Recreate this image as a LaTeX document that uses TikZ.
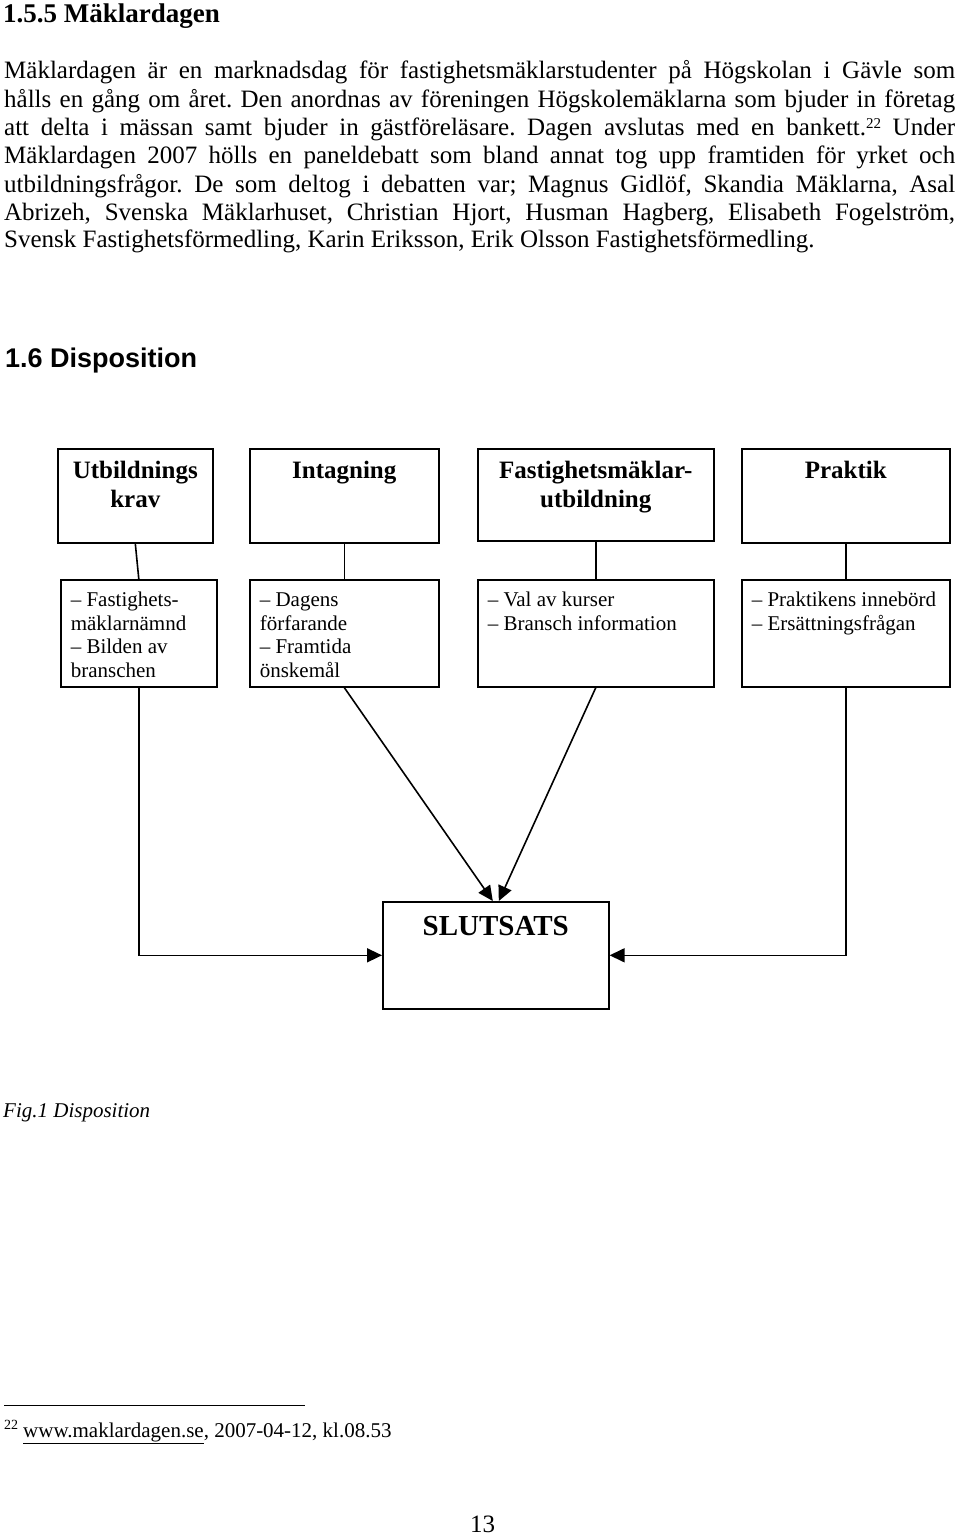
\documentclass[tikz,border=0pt]{standalone}
\usepackage{fontspec}
\setmainfont{Liberation Serif}
\newfontfamily\arialfont{Liberation Sans}
\usetikzlibrary{arrows.meta}
\frenchspacing
\newcommand\hdrtext{\centering\fontsize{25}{29}\selectfont\bfseries\rule{0pt}{30pt}}
\newcommand\lowtext{\raggedright\fontsize{21}{23.5}\selectfont\rule{0pt}{27pt}}
\newcommand\bodyline[1]{\makebox[951pt][s]{#1}}
\begin{document}
\frenchspacing
\begin{tikzpicture}[x=1pt,y=-1pt,
  txt/.style={anchor=base west, inner sep=0pt},
  body/.style={txt, font=\fontsize{25}{28}\selectfont},
  box/.style={draw, line width=1.6pt, inner sep=0pt, anchor=north west},
  lowbox/.style={box, inner xsep=10pt, inner ysep=0pt},
  conn/.style={line width=1.6pt},
  arr/.style={conn, -{Triangle[length=15pt,width=14pt]}}]
\useasboundingbox (0,0) rectangle (960,1537);

% headings and body text
\node[txt, font=\fontsize{27}{30}\selectfont\bfseries] (h1) at (3,22) {1.5.5 Mäklardagen};
\node[body] (p1) at (4,78)  {\bodyline{Mäklardagen är en marknadsdag för fastighetsmäklarstudenter på Högskolan i Gävle som}};
\node[body] (p2) at (4,107) {\bodyline{hålls en gång om året. Den anordnas av föreningen Högskolemäklarna som bjuder in företag}};
\node[body] (p3) at (4,135) {\bodyline{att delta i mässan samt bjuder in gästföreläsare. Dagen avslutas med en bankett.\raisebox{7pt}{\fontsize{15}{15}\selectfont 22} Under}};
\node[body] (p4) at (4,163) {\bodyline{Mäklardagen 2007 hölls en paneldebatt som bland annat tog upp framtiden för yrket och}};
\node[body] (p5) at (4,192) {\bodyline{utbildningsfrågor. De som deltog i debatten var; Magnus Gidlöf, Skandia Mäklarna, Asal}};
\node[body] (p6) at (4,220) {\bodyline{Abrizeh, Svenska Mäklarhuset, Christian Hjort, Husman Hagberg, Elisabeth Fogelström,}};
\node[body] (p7) at (4,247) {Svensk Fastighetsförmedling, Karin Eriksson, Erik Olsson Fastighetsförmedling.};

\node[txt, font=\arialfont\fontsize{27}{30}\selectfont\bfseries] (h2) at (5,367) {1.6 Disposition};

% top boxes
\node[box] (B1) at (57,448)  {\parbox[c][94pt][t]{155pt}{\hdrtext Utbildnings\\krav}};
\node[box] (B2) at (249,448) {\parbox[c][94pt][t]{189pt}{\hdrtext Intagning}};
\node[box] (B3) at (477,448) {\parbox[c][92pt][t]{236pt}{\hdrtext Fastighetsmäklar-\\utbildning}};
\node[box] (B4) at (741,448) {\parbox[c][94pt][t]{208pt}{\hdrtext Praktik}};

% lower boxes
\node[lowbox] (L1) at (60,579)  {\parbox[c][107pt][t]{136pt}{\lowtext – Fastighets-\\mäklarnämnd\\– Bilden av\\branschen}};
\node[lowbox] (L2) at (249,579) {\parbox[c][107pt][t]{169pt}{\lowtext – Dagens\\förfarande\\– Framtida\\önskemål}};
\node[lowbox] (L3) at (477,579) {\parbox[c][107pt][t]{216pt}{\lowtext – Val av kurser\\– Bransch information}};
\node[lowbox] (L4) at (741,579) {\parbox[c][107pt][t]{188pt}{\lowtext – Praktikens innebörd\\– Ersättningsfrågan}};

% conclusion box
\node[box] (S) at (382,901) {\parbox[c][107pt][t]{226pt}{\centering\fontsize{29}{34}\selectfont\bfseries\rule{0pt}{34pt}SLUTSATS}};

% connectors
\draw[conn] (B1.south) -- (L1.north);
\draw[conn] (B2.south) -- (L2.north);
\draw[conn] (B3.south) -- (L3.north);
\draw[conn] (B4.south) -- (L4.north);
\draw[arr] (L1.south) |- (S.west);
\draw[arr] (L4.south) |- (S.east);
\draw[arr] (L2.south) -- ([xshift=-3pt]S.north);
\draw[arr] (L3.south) -- ([xshift=3pt]S.north);

% caption
\node[txt, font=\fontsize{21}{24}\selectfont\itshape] (fig) at (3,1117) {Fig.1 Disposition};

% footnote
\coordinate (fnA) at (4,1405);
\coordinate (fnB) at (305,1405);
\draw[line width=1pt] (fnA) -- (fnB);
\node[txt, font=\fontsize{14}{14}\selectfont] (fnm) at (4,1429) {22};
\node[txt, font=\fontsize{21}{24}\selectfont] (fn) at (23,1437) {\underline{www.maklardagen.se}, 2007-04-12, kl.08.53};

% page number
\node[txt, font=\fontsize{25}{28}\selectfont] (pg) at (470,1532) {13};
\end{tikzpicture}
\end{document}
